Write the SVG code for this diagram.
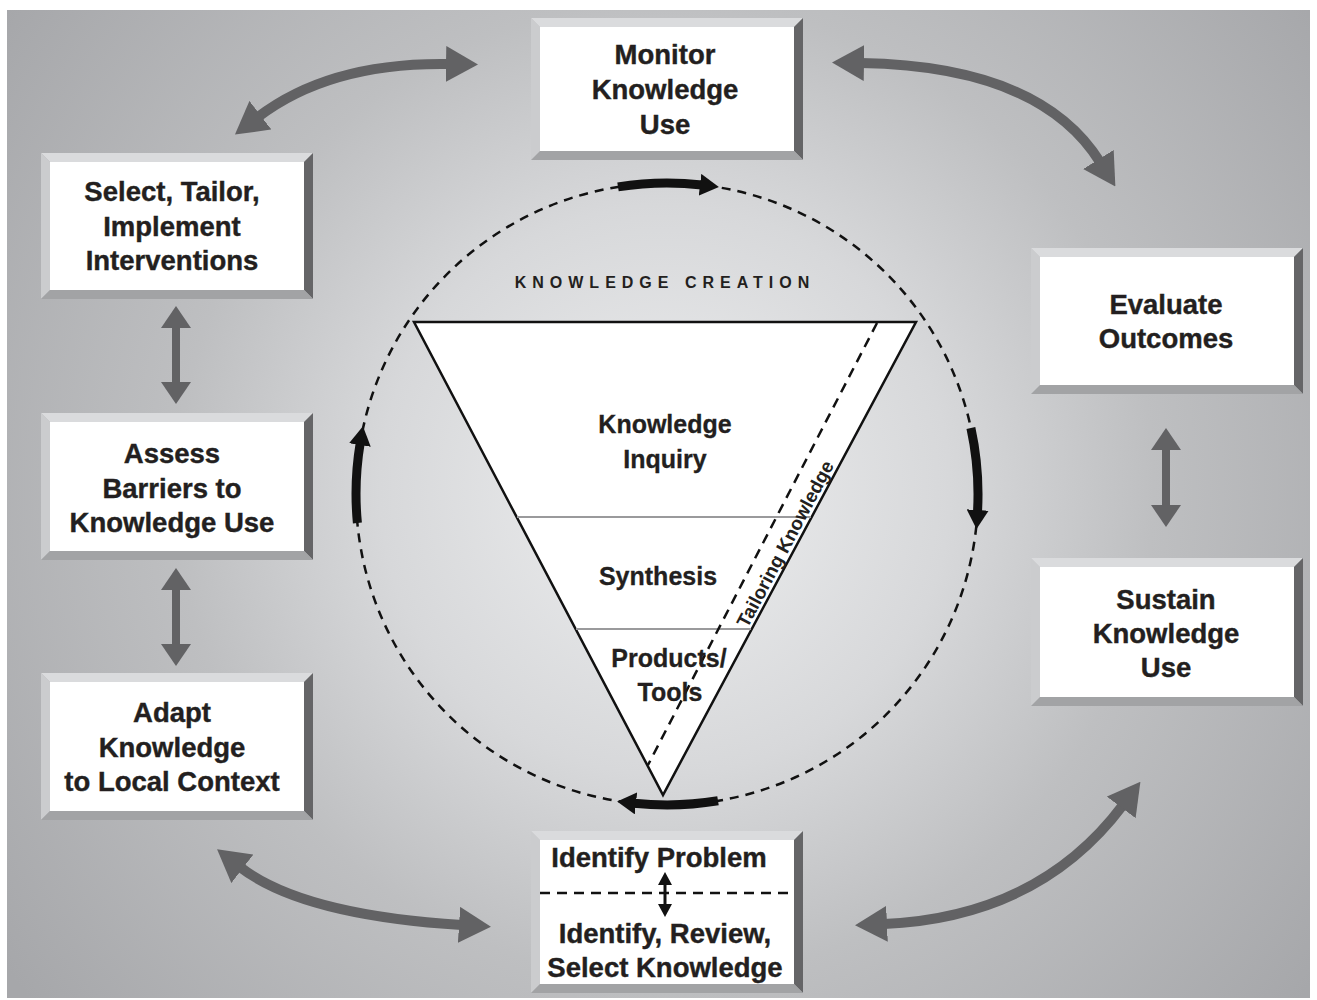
<svg xmlns="http://www.w3.org/2000/svg" width="1317" height="1000" viewBox="0 0 1317 1000">
<defs>
<radialGradient id="bg" gradientUnits="userSpaceOnUse" cx="665" cy="490" r="814">
<stop offset="0" stop-color="#eeeff0"/>
<stop offset="0.35" stop-color="#d7d8da"/>
<stop offset="0.6" stop-color="#bebfc1"/>
<stop offset="1" stop-color="#a6a7aa"/>
</radialGradient>
<marker id="gh" markerUnits="userSpaceOnUse" viewBox="0 -18 32 36" refX="3" refY="0" markerWidth="32" markerHeight="36" orient="auto-start-reverse"><path d="M0,-18 L32,0 L0,18 z" fill="#626264"/></marker>
<marker id="vh" markerUnits="userSpaceOnUse" viewBox="0 -15 22 30" refX="3" refY="0" markerWidth="22" markerHeight="30" orient="auto-start-reverse"><path d="M0,-15 L22,0 L0,15 z" fill="#626264"/></marker>
<marker id="bh" markerUnits="userSpaceOnUse" viewBox="0 -11 19 22" refX="2" refY="0" markerWidth="19" markerHeight="22" orient="auto-start-reverse"><path d="M0,-11 L19,0 L0,11 z" fill="#111"/></marker>
<marker id="sh" markerUnits="userSpaceOnUse" viewBox="0 -7 13 14" refX="1" refY="0" markerWidth="13" markerHeight="14" orient="auto-start-reverse"><path d="M0,-7 L13,0 L0,7 z" fill="#111"/></marker>
</defs>
<style>
.bt{fill:#dadbdd}
.bl{fill:#cbccce}
.br{fill:#656567}
.bb{fill:#a2a3a5}
.face{fill:#ffffff}
.lbl{font-family:"Liberation Sans",Arial,sans-serif;font-weight:bold;font-size:27.5px;fill:#231f20;text-anchor:middle;stroke:#231f20;stroke-width:0.4}
.tri{font-family:"Liberation Sans",Arial,sans-serif;font-weight:bold;font-size:25px;fill:#231f20;text-anchor:middle;stroke:#231f20;stroke-width:0.3}
.garc{fill:none;stroke:#626264;stroke-width:10}
.vline{fill:none;stroke:#626264;stroke-width:8}
.barc{fill:none;stroke:#111;stroke-width:9}
</style>
<rect x="7" y="10" width="1303" height="988" fill="url(#bg)"/>

<g id="knowledge-creation">
<circle cx="667" cy="494" r="311" fill="none" stroke="#111" stroke-width="2.5" stroke-dasharray="9 7"/>
<polygon points="414,322 916,322 663,795" fill="#ffffff" stroke="#111" stroke-width="2.5" stroke-linejoin="miter"/>
<line x1="517" y1="517" x2="811" y2="517" stroke="#9a9a9c" stroke-width="2"/>
<line x1="576" y1="629" x2="751" y2="629" stroke="#9a9a9c" stroke-width="2"/>
<line x1="877" y1="323" x2="648" y2="765" stroke="#111" stroke-width="2.5" stroke-dasharray="10 7"/>
<text x="665" y="288" font-family="'Liberation Sans',Arial,sans-serif" font-weight="bold" font-size="16" letter-spacing="6" fill="#231f20" text-anchor="middle">KNOWLEDGE CREATION</text>
<text class="tri" x="665" y="433">Knowledge</text>
<text class="tri" x="665" y="468">Inquiry</text>
<text class="tri" x="658" y="585">Synthesis</text>
<text class="tri" x="669" y="667">Products/</text>
<text class="tri" x="670" y="701">Tools</text>
<text x="0" y="0" transform="translate(791,547) rotate(-62)" font-family="'Liberation Sans',Arial,sans-serif" font-weight="bold" font-size="19" fill="#231f20" text-anchor="middle">Tailoring Knowledge</text>
</g>

<g id="monitor">
<polygon class="bt" points="531,18 803,18 794,27 540,27"/>
<polygon class="bl" points="531,18 540,27 540,151 531,160"/>
<polygon class="br" points="803,18 803,160 794,151 794,27"/>
<polygon class="bb" points="531,160 540,151 794,151 803,160"/>
<rect class="face" x="540" y="27" width="254" height="124"/>
<text class="lbl" x="665" y="64">Monitor</text>
<text class="lbl" x="665" y="99">Knowledge</text>
<text class="lbl" x="665" y="134">Use</text>
</g>

<g id="select">
<polygon class="bt" points="41,153 313,153 304,162 50,162"/>
<polygon class="bl" points="41,153 50,162 50,290 41,299"/>
<polygon class="br" points="313,153 313,299 304,290 304,162"/>
<polygon class="bb" points="41,299 50,290 304,290 313,299"/>
<rect class="face" x="50" y="162" width="254" height="128"/>
<text class="lbl" x="172" y="201">Select, Tailor,</text>
<text class="lbl" x="172" y="236">Implement</text>
<text class="lbl" x="172" y="270">Interventions</text>
</g>

<g id="assess">
<polygon class="bt" points="41,413 313,413 304,422 50,422"/>
<polygon class="bl" points="41,413 50,422 50,551 41,560"/>
<polygon class="br" points="313,413 313,560 304,551 304,422"/>
<polygon class="bb" points="41,560 50,551 304,551 313,560"/>
<rect class="face" x="50" y="422" width="254" height="129"/>
<text class="lbl" x="172" y="463">Assess</text>
<text class="lbl" x="172" y="498">Barriers to</text>
<text class="lbl" x="172" y="532">Knowledge Use</text>
</g>

<g id="adapt">
<polygon class="bt" points="41,673 313,673 304,682 50,682"/>
<polygon class="bl" points="41,673 50,682 50,811 41,820"/>
<polygon class="br" points="313,673 313,820 304,811 304,682"/>
<polygon class="bb" points="41,820 50,811 304,811 313,820"/>
<rect class="face" x="50" y="682" width="254" height="129"/>
<text class="lbl" x="172" y="722">Adapt</text>
<text class="lbl" x="172" y="757">Knowledge</text>
<text class="lbl" x="172" y="791">to Local Context</text>
</g>

<g id="evaluate">
<polygon class="bt" points="1031,248 1303,248 1294,257 1040,257"/>
<polygon class="bl" points="1031,248 1040,257 1040,385 1031,394"/>
<polygon class="br" points="1303,248 1303,394 1294,385 1294,257"/>
<polygon class="bb" points="1031,394 1040,385 1294,385 1303,394"/>
<rect class="face" x="1040" y="257" width="254" height="128"/>
<text class="lbl" x="1166" y="314">Evaluate</text>
<text class="lbl" x="1166" y="348">Outcomes</text>
</g>

<g id="sustain">
<polygon class="bt" points="1031,558 1303,558 1294,567 1040,567"/>
<polygon class="bl" points="1031,558 1040,567 1040,697 1031,706"/>
<polygon class="br" points="1303,558 1303,706 1294,697 1294,567"/>
<polygon class="bb" points="1031,706 1040,697 1294,697 1303,706"/>
<rect class="face" x="1040" y="567" width="254" height="130"/>
<text class="lbl" x="1166" y="609">Sustain</text>
<text class="lbl" x="1166" y="643">Knowledge</text>
<text class="lbl" x="1166" y="677">Use</text>
</g>

<g id="identify">
<polygon class="bt" points="531,831 803,831 794,840 540,840"/>
<polygon class="bl" points="531,831 540,840 540,984 531,993"/>
<polygon class="br" points="803,831 803,993 794,984 794,840"/>
<polygon class="bb" points="531,993 540,984 794,984 803,993"/>
<rect class="face" x="540" y="840" width="254" height="144"/>
<text class="lbl" x="659" y="867">Identify Problem</text>
<line x1="540" y1="893" x2="794" y2="893" stroke="#111" stroke-width="2.5" stroke-dasharray="10 7"/>
<path d="M665,884 L665,905" stroke="#111" stroke-width="3" fill="none" marker-start="url(#sh)" marker-end="url(#sh)"/>
<text class="lbl" x="665" y="943">Identify, Review,</text>
<text class="lbl" x="665" y="977">Select Knowledge</text>
</g>

<g id="connectors">
<path class="garc" d="M258,117 Q330,62 449,64" marker-start="url(#gh)" marker-end="url(#gh)"/>
<path class="garc" d="M861,63 Q1040,66 1100,162" marker-start="url(#gh)" marker-end="url(#gh)"/>
<path class="garc" d="M240,867 Q302,915 462,925" marker-start="url(#gh)" marker-end="url(#gh)"/>
<path class="garc" d="M884,924 Q1039,917 1123,805" marker-start="url(#gh)" marker-end="url(#gh)"/>
<path class="vline" d="M176,325 L176,385" marker-start="url(#vh)" marker-end="url(#vh)"/>
<path class="vline" d="M176,587 L176,647" marker-start="url(#vh)" marker-end="url(#vh)"/>
<path class="vline" d="M1166,447 L1166,508" marker-start="url(#vh)" marker-end="url(#vh)"/>
<path class="barc" d="M618,186.9 A311,311 0 0 1 702,185" marker-end="url(#bh)"/>
<path class="barc" d="M970.9,428 A311,311 0 0 1 977.5,512" marker-end="url(#bh)"/>
<path class="barc" d="M718,800.8 A311,311 0 0 1 634,803.2" marker-end="url(#bh)"/>
<path class="barc" d="M357.4,523 A311,311 0 0 1 360.2,443" marker-end="url(#bh)"/>
</g>
</svg>
